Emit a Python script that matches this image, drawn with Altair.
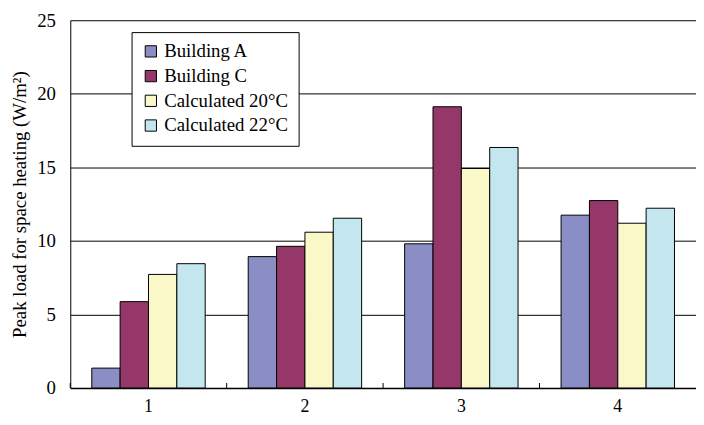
import altair as alt
import pandas as pd

groups = ["1", "2", "3", "4"]
series = ["Building A", "Building C", "Calculated 20°C", "Calculated 22°C"]
building_a = [1.35, 8.93, 9.8, 11.75]
building_c = [5.87, 9.63, 19.12, 12.74]
calc_20 = [7.72, 10.59, 14.92, 11.2]
calc_22 = [8.45, 11.54, 16.35, 12.22]
colors = ["#8B8EC4", "#953769", "#FAF7C8", "#C4E6EE"]
y_ticks = [0, 5, 10, 15, 20, 25]

rows = []
for name, vals in zip(series, [building_a, building_c, calc_20, calc_22]):
    for g, v in zip(groups, vals):
        rows.append({"group": g, "series": name, "value": v})
df = pd.DataFrame(rows)

FONT = "Liberation Serif"
W, H = 633, 372

xscale = alt.Scale(paddingInner=0.275, paddingOuter=0.1375)

bars = alt.Chart(df).mark_bar(stroke="black", strokeWidth=1).encode(
    x=alt.X("group:N", scale=xscale, sort=groups,
            axis=alt.Axis(title=None, labelAngle=0, ticks=False, labelPadding=10,
                          labelFont=FONT, labelFontSize=18, labelColor="black",
                          domainColor="black", domainWidth=1.5, grid=False)),
    xOffset=alt.XOffset("series:N", sort=series),
    y=alt.Y("value:Q", scale=alt.Scale(domain=[0, 25], nice=False),
            axis=alt.Axis(title="Peak load for space heating (W/m²)", values=y_ticks,
                          ticks=False, labelPadding=15, labelFont=FONT, labelFontSize=19,
                          labelColor="black", titleFont=FONT, titleFontSize=19,
                          titleFontWeight="normal", titleColor="black", titlePadding=7,
                          grid=True, gridColor="black", gridWidth=1,
                          domainColor="black", domainWidth=1)),
    color=alt.Color("series:N", sort=series,
                    scale=alt.Scale(domain=series, range=colors),
                    legend=alt.Legend(title=None, orient="none", legendX=62, legendY=12,
                                      fillColor="white", strokeColor="black", padding=10,
                                      rowPadding=5, symbolType="square", symbolSize=130,
                                      symbolStrokeColor="black", symbolStrokeWidth=1,
                                      labelFont=FONT, labelFontSize=19, labelColor="black",
                                      labelOffset=4)),
)

gticks = alt.Chart(pd.DataFrame({"group": groups})).mark_rule(
    color="black", strokeWidth=1, xOffset=-21.8
).encode(
    x=alt.X("group:N", sort=groups, bandPosition=0),
    y=alt.value(H),
    y2=alt.value(H - 5),
)

chart = alt.layer(bars, gticks).properties(
    width=W, height=H, autosize="none",
    padding={"left": 63, "top": 10, "right": 0, "bottom": 29},
).configure_view(stroke=None)

chart.save("out.html", embed_options={"renderer": "svg", "actions": False})
